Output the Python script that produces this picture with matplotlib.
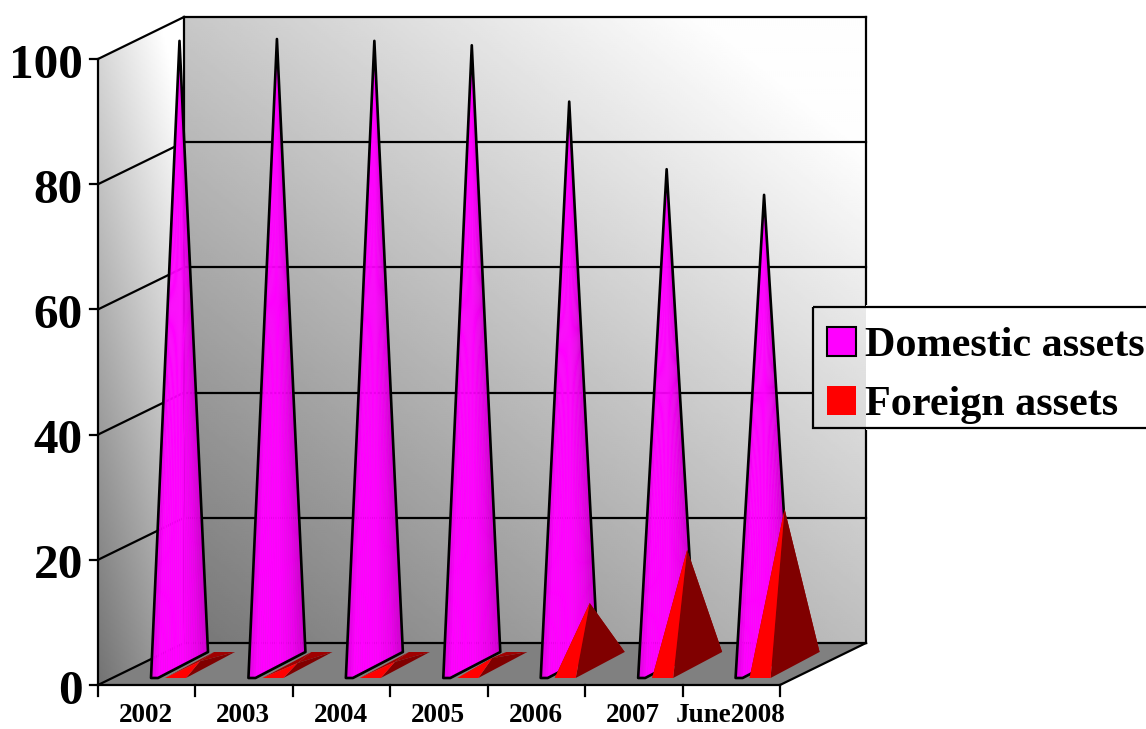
import numpy as np
import matplotlib
matplotlib.use("Agg")
import matplotlib.pyplot as plt
from matplotlib.patches import Polygon, Patch, Rectangle

# Data
categories = ["2002", "2003", "2004", "2005", "2006", "2007", "June2008"]
domestic = [99.7, 100.0, 99.7, 99.0, 90.0, 79.2, 75.1]
foreign = [0.6, 0.3, 0.5, 1.1, 9.9, 18.4, 24.9]
y_ticks = [0, 20, 40, 60, 80, 100]

# Oblique projection, all in image pixels
X0, X1 = 98.0, 780.0
Y0 = 685.0
UNIT = 6.26
DX, DY = 86.0, -42.0
STEP = (X1 - X0) / len(categories)
FRONT_Y, BACK_Y = 678.0, 652.0
MID_Y = (FRONT_Y + BACK_Y) / 2


def cat_x(i):
    return X0 + i * STEP


def front_y(v):
    return Y0 - v * UNIT


def apex_y(v):
    return MID_Y - v * UNIT


fig = plt.figure(figsize=(11.46, 7.29), dpi=100)
ax = fig.add_axes([0, 0, 1, 1])
ax.axis("off")

# Wall gradients
xx, yy = np.meshgrid(np.arange(0, 1146, 2.0), np.arange(0, 729, 2.0))
wall_img = np.clip(118 + 0.105 * (xx - 184) + 0.13 * (643 - yy), 0, 254)
side_img = np.clip(212 + 0.6 * (xx - 98) - 0.156 * (yy - 60), 0, 255)
extent = (0, 1146, 729, 0)


def gradient(img, clip_patch, z):
    im = ax.imshow(img, extent=extent, cmap="gray", vmin=0, vmax=255,
                   aspect="auto", zorder=z, interpolation="bilinear")
    ax.add_patch(clip_patch)
    im.set_clip_path(clip_patch)


back_x = X0 + DX
back_x1 = X1 + DX
top = front_y(100)
wall_poly = [(back_x, Y0 + DY), (back_x1, Y0 + DY), (back_x1, top + DY), (back_x, top + DY)]
side_poly = [(X0, Y0), (back_x, Y0 + DY), (back_x, top + DY), (X0, top)]
floor_poly = [(X0, Y0), (X1, Y0), (back_x1, Y0 + DY), (back_x, Y0 + DY)]

gradient(wall_img, Polygon(wall_poly, closed=True, fc="none", ec="none"), 1)
gradient(side_img, Polygon(side_poly, closed=True, fc="none", ec="none"), 1)
ax.add_patch(Polygon(floor_poly, closed=True, fc="#808080", ec="none", zorder=2))

# Frame and gridlines
line = dict(color="black", lw=1.6, solid_capstyle="projecting", zorder=3)
for v in y_ticks:
    y = front_y(v)
    ax.plot([X0, back_x], [y, y + DY], **line)
    ax.plot([back_x, back_x1], [y + DY, y + DY], **line)
    ax.plot([X0 - 8, X0], [y, y], **line)
    ax.text(X0 - 15, y + 18.5, str(v), ha="right", va="baseline", fontsize=35.5,
            fontweight="bold", family="Liberation Serif", zorder=8)
ax.plot([X0, X0], [Y0, top], **line)
ax.plot([back_x, back_x], [Y0 + DY, top + DY], **line)
ax.plot([back_x1, back_x1], [Y0 + DY, top + DY], **line)
ax.plot([X1, back_x1], [Y0, Y0 + DY], **line)
ax.plot([X0, X1], [Y0, Y0], **line)
for i in range(len(categories) + 1):
    ax.plot([cat_x(i), cat_x(i)], [Y0, Y0 + 11], **line)
for i, name in enumerate(categories):
    ax.text(cat_x(i) + STEP / 2 - 1, 722, name, ha="center", va="baseline", fontsize=19.5,
            fontweight="bold", family="Liberation Serif", zorder=8)


# Pyramids
def magenta_shade(t):
    stops = [0.0, 0.15, 0.55, 0.8, 1.0]
    vals = [0.86, 1.0, 1.0, 0.93, 0.80]
    g = np.interp(t, stops, vals)
    return (g, 0, g)


def draw_domestic(i, v):
    left = cat_x(i)
    fl, fr, br = left + 53, left + 60, left + 110
    apex = ((fl + br) / 2, apex_y(v))
    base = np.array([[fl, FRONT_Y], [fr, FRONT_Y], [br, BACK_Y]])
    # thin slices from the base to the tip
    n = 24
    edges = np.linspace(fl, br, n + 1)
    for k in range(n):
        bx = np.interp(edges[k:k + 2], base[:, 0], base[:, 1])
        pts = [(edges[k], bx[0]), (edges[k + 1], bx[1]), apex]
        c = magenta_shade((k + 0.5) / n)
        ax.add_patch(Polygon(pts, closed=True, fc=c, ec=c, lw=0.3, zorder=4 + i * 0.01))
    outline = [(fl, FRONT_Y), (fr, FRONT_Y), (br, BACK_Y), apex]
    ax.add_patch(Polygon(outline, closed=True, fc="none", ec="black", lw=1.9,
                         joinstyle="round", zorder=4.5 + i * 0.01))


def draw_foreign(i, v):
    left = cat_x(i)
    fl, fr, br = left + 67, left + 88, left + 137
    bl = br - (fr - fl)
    apex = ((fl + br) / 2, apex_y(v))
    z = 5 + i * 0.01
    ax.add_patch(Polygon([(bl, BACK_Y), (br, BACK_Y), apex], closed=True, fc="#a00000", ec="none", zorder=z))
    ax.add_patch(Polygon([(fl, FRONT_Y), (bl, BACK_Y), apex], closed=True, fc="#a00000", ec="none", zorder=z))
    ax.add_patch(Polygon([(fr, FRONT_Y), (br, BACK_Y), apex], closed=True, fc="#800000", ec="none", zorder=z))
    ax.add_patch(Polygon([(fl, FRONT_Y), (fr, FRONT_Y), apex], closed=True, fc="#ff0000", ec="none", zorder=z))


for i in range(len(categories)):
    draw_domestic(i, domestic[i])
    draw_foreign(i, foreign[i])

# Legend: the wall shows through it but gridlines do not
ax.add_patch(Rectangle((866, 305), 12, 125, fc="white", ec="none", zorder=6))
gradient(wall_img, Rectangle((813, 307), 53, 121, fc="none", ec="none"), 6)
ax.add_patch(Rectangle((813, 307), 345, 121, fc="none", ec="black", lw=1.6, zorder=7))

handles = [Patch(fc="#ff00ff", ec="black", lw=1.5), Patch(fc="#ff0000", ec="none")]
leg = ax.legend(handles, ["Domestic assets", "Foreign assets"],
                loc="upper left", bbox_to_anchor=(827, 327), bbox_transform=ax.transData,
                borderaxespad=0, frameon=False, handlelength=0.68, handleheight=0.68,
                handletextpad=0.22, labelspacing=0.5, borderpad=0,
                prop={"family": "Liberation Serif", "weight": "bold", "size": 30.3})
leg.set_zorder(9)

ax.set_xlim(0, 1146)
ax.set_ylim(729, 0)
fig.savefig("out.png", dpi=100, facecolor="white")
